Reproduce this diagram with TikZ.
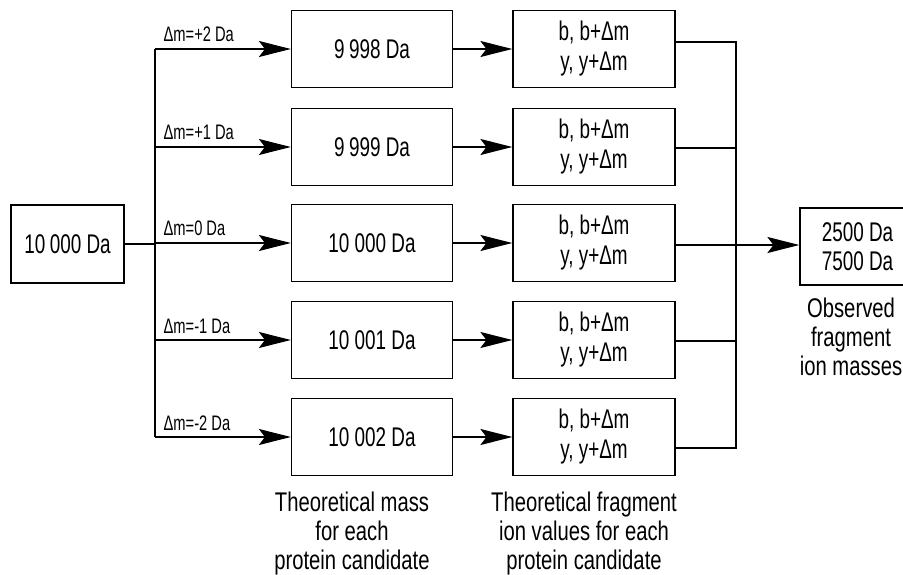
\documentclass[tikz,border=0pt]{standalone}
\usepackage{fontspec}
\setmainfont{Liberation Sans}[FakeStretch=0.7]
\newfontfamily\capfont{Liberation Sans}[FakeStretch=0.75]
\usetikzlibrary{arrows.meta}
\begin{document}
\begin{tikzpicture}[x=1pt,y=-1pt,
  line width=1.2pt,
  box/.style={draw,line width=1.2pt,inner sep=0pt,font=\fontsize{27}{29}\selectfont,align=center},
  mbox/.style={box,minimum width=161pt,minimum height=77pt},
  fragbox/.style={box,minimum width=162pt,minimum height=77pt,font=\fontsize{27}{30}\selectfont},
  lab/.style={font=\fontsize{21}{22}\selectfont,anchor=base west,inner sep=0pt},
  captext/.style={font=\capfont\fontsize{27}{29}\selectfont,align=center,anchor=north,inner sep=0pt},
  arr/.style={-{Stealth[length=32pt,width=16pt,inset=6pt]}}
]
\useasboundingbox (0,0) rectangle (903,575);
% source
\node[box,minimum width=113pt,minimum height=78pt] (src) at (67.5,244) {10\,000 Da};
% mass boxes
\node[mbox] (m1) at (372,49) {9\,998 Da};
\node[mbox] (m2) at (372,147) {9\,999 Da};
\node[mbox] (m3) at (372,243) {10 000 Da};
\node[mbox] (m4) at (372,340) {10 001 Da};
\node[mbox] (m5) at (372,437) {10 002 Da};
% fragment boxes
\node[fragbox] (f1) at (594,49) {b, b+Δm\\y, y+Δm};
\node[fragbox] (f2) at (594,147) {b, b+Δm\\y, y+Δm};
\node[fragbox] (f3) at (594,243) {b, b+Δm\\y, y+Δm};
\node[fragbox] (f4) at (594,340) {b, b+Δm\\y, y+Δm};
\node[fragbox] (f5) at (594,437) {b, b+Δm\\y, y+Δm};
% final box
\node[box,minimum width=115pt,minimum height=77pt] (fin) at (857.5,246.5) {2500 Da\\7500 Da};
% left trunk
\coordinate (t1) at (155,49);
\coordinate (t2) at (155,147);
\coordinate (t3) at (155,243);
\coordinate (t4) at (155,340);
\coordinate (t5) at (155,437);
\draw (t1) -- (t5);
\draw (src.east |- 0,244) -- (155,244);
\draw[arr] (t1) -- (m1);
\draw[arr] (t2) -- (m2);
\draw[arr] (t3) -- (m3);
\draw[arr] (t4) -- (m4);
\draw[arr] (t5) -- (m5);
\node[lab] (l1) at (163,42) {Δm=+2 Da};
\node[lab] (l2) at (163,140) {Δm=+1 Da};
\node[lab] (l3) at (163,236) {Δm=0 Da};
\node[lab] (l4) at (163,333) {Δm=-1 Da};
\node[lab] (l5) at (163,430) {Δm=-2 Da};
% mass -> fragment
\draw[arr] (m1) -- (f1);
\draw[arr] (m2) -- (f2);
\draw[arr] (m3) -- (f3);
\draw[arr] (m4) -- (f4);
\draw[arr] (m5) -- (f5);
% right trunk
\coordinate (e1) at (736,42);
\coordinate (e2) at (736,148);
\coordinate (e3) at (736,245);
\coordinate (e4) at (736,341);
\coordinate (e5) at (736,448);
\draw (f1.east |- e1) -- (e1) -- (e5) -- (f5.east |- e5);
\draw (f2.east |- e2) -- (e2);
\draw (f3.east |- e3) -- (e3);
\draw (f4.east |- e4) -- (e4);
\draw[arr] (e3) -- (fin.west |- e3);
% captions
\node[captext] (c1) at (352,491) {Theoretical mass\\for each\\protein candidate};
\node[captext] (c2) at (584,491) {Theoretical fragment\\ion values for each\\protein candidate};
\node[captext] (c3) at (851,297) {Observed\\fragment\\ion masses};
\end{tikzpicture}
\end{document}
